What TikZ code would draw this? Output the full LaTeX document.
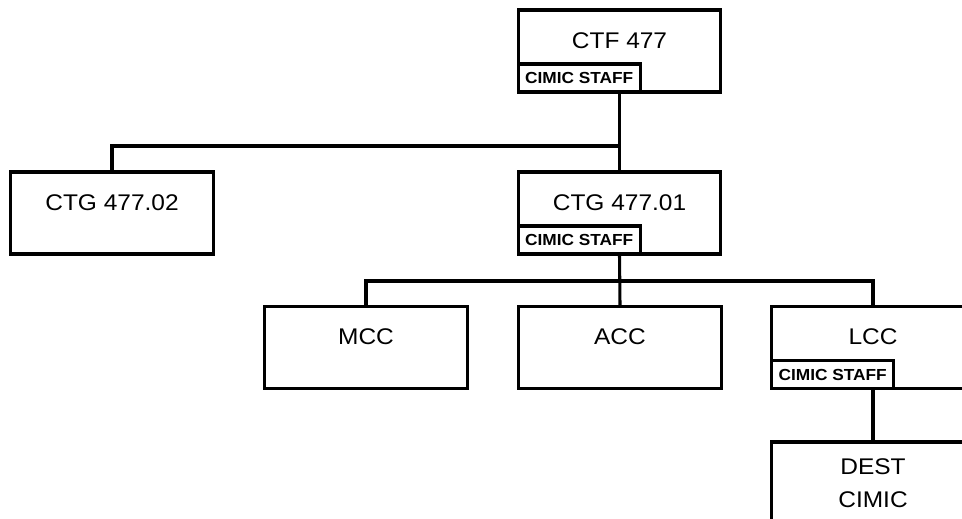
\documentclass[tikz,border=0pt]{standalone}
\usepackage{fontspec}
\setmainfont{Liberation Sans}[FakeStretch=1.08]
\usepackage{tikz}
\usetikzlibrary{positioning,calc}
\tikzset{unit/.style={draw=black,line width=2.3pt,minimum width=152pt,minimum height=61.5pt,inner sep=0pt,font=\fontsize{17}{24.75}\selectfont,text height=12pt,text depth=16.5pt},staff/.style={draw=black,line width=2.3pt,fill=white,minimum width=91.5pt,minimum height=21pt,inner sep=0pt,anchor=south west,font=\bfseries\fontsize{12}{13}\selectfont},two/.style={unit,align=center,text height=,text depth=},link/.style={line width=2.3pt,draw=black}}
\begin{document}
\begin{tikzpicture}[x=0.75pt,y=-0.75pt]
\useasboundingbox (0,0) rectangle (962,518);
\clip (0,0) rectangle (962,518);
\node[unit] (ctf) at (619.5,51) {CTF 477};
\node[staff] (ctfstaff) at (ctf.south west) {CIMIC STAFF};
\node[unit] (ctg2) at (112,213) {CTG 477.02};
\node[unit] (ctg1) at (619.5,213) {CTG 477.01};
\node[staff] (ctg1staff) at (ctg1.south west) {CIMIC STAFF};
\node[unit] (mcc) at (366,347.5) {MCC};
\node[unit] (acc) at (620,347.5) {ACC};
\node[unit] (lcc) at (873,347.5) {LCC};
\node[staff] (lccstaff) at (lcc.south west) {CIMIC STAFF};
\node[two] (dest) at (873,483) {DEST\\CIMIC};
\coordinate (bus1) at (619.5,146);
\coordinate (bus2) at (620,281);
\draw[link] (ctf.south) -- (ctg1.north);
\draw[link] (ctg2.north) |- (bus1);
\draw[link] (ctg1.south) -- (acc.north);
\draw[link] (mcc.north) |- (bus2) -| (lcc.north);
\draw[link] (lcc.south) -- (dest.north);
\end{tikzpicture}
\end{document}
